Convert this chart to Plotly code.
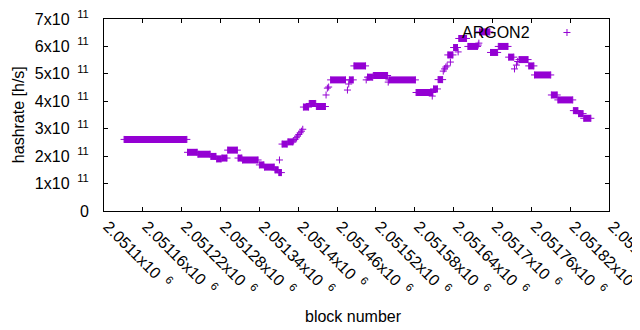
import plotly.graph_objects as go

# Runs of blocks with constant hashrate (block range, value in units of 1e11 h/s)
run_start = [2051131, 2051229, 2051245, 2051265, 2051274, 2051282, 2051291, 2051307, 2051314, 2051340,
             2051348, 2051364, 2051370, 2051375, 2051384, 2051408, 2051417, 2051428, 2051450, 2051479,
             2051486, 2051507, 2051516, 2051540, 2051582, 2051609, 2051616, 2051631, 2051640, 2051648,
             2051662, 2051680, 2051697, 2051709, 2051725, 2051741, 2051756, 2051765, 2051791, 2051801,
             2051825, 2051833, 2051841]
run_end = [2051228, 2051244, 2051264, 2051273, 2051281, 2051290, 2051306, 2051313, 2051338, 2051347,
           2051363, 2051369, 2051374, 2051383, 2051392, 2051416, 2051427, 2051442, 2051473, 2051485,
           2051504, 2051515, 2051538, 2051581, 2051608, 2051615, 2051623, 2051639, 2051646, 2051660,
           2051677, 2051696, 2051708, 2051724, 2051733, 2051755, 2051764, 2051790, 2051800, 2051824,
           2051832, 2051840, 2051852]
run_value = [2.61, 2.14, 2.07, 1.99, 1.90, 1.93, 2.22, 1.93, 1.86, 1.68,
             1.60, 1.50, 1.40, 2.44, 2.52, 3.79, 3.92, 3.81, 4.78, 4.78,
             5.29, 4.88, 4.94, 4.78, 4.32, 4.45, 4.79, 5.69, 5.96, 6.29,
             6.00, 6.53, 5.78, 6.00, 5.61, 5.52, 5.29, 4.96, 4.23, 4.05,
             3.66, 3.55, 3.38]

# Individual blocks between runs (block, value in 1e11 h/s)
point_block = [2051371, 2051393, 2051395, 2051397, 2051399, 2051401, 2051403, 2051405, 2051407,
               2051443, 2051445, 2051447, 2051476, 2051478, 2051505, 2051539, 2051607,
               2051624, 2051626, 2051628, 2051630, 2051635, 2051647, 2051678, 2051679,
               2051734, 2051737, 2051739]
point_value = [1.86, 2.56, 2.61, 2.67, 2.73, 2.79, 2.85, 2.91, 2.98,
               4.23, 4.48, 4.52, 4.41, 4.63, 4.78, 4.70, 4.19,
               5.10, 5.18, 5.25, 5.29, 5.43, 5.80, 6.05, 6.12,
               5.18, 5.32, 5.45]

x_tick_vals = [2051100, 2051160, 2051220, 2051280, 2051340, 2051400, 2051460,
               2051520, 2051580, 2051640, 2051700, 2051760, 2051820, 2051880]
x_tick_mant = ["2.0511", "2.05116", "2.05122", "2.05128", "2.05134", "2.0514", "2.05146",
               "2.05152", "2.05158", "2.05164", "2.0517", "2.05176", "2.05182", "2.05188"]
y_tick_vals = [0, 1e11, 2e11, 3e11, 4e11, 5e11, 6e11, 7e11]
y_tick_mant = ["0", "1", "2", "3", "4", "5", "6", "7"]

SCALE = 1e11
COLOR = "#9400D3"
FONT = "Liberation Sans"

seg_x, seg_y = [], []
for s, e, v in zip(run_start, run_end, run_value):
    seg_x += [s, e, None]
    seg_y += [v * SCALE, v * SCALE, None]

fig = go.Figure()
fig.add_trace(go.Scatter(
    x=seg_x, y=seg_y, mode="lines+markers",
    line=dict(color=COLOR, width=7),
    marker=dict(symbol="cross-thin", size=5, color=COLOR, line=dict(color=COLOR, width=1)),
    showlegend=False, hoverinfo="skip"))
fig.add_trace(go.Scatter(
    x=point_block, y=[v * SCALE for v in point_value], mode="markers",
    marker=dict(symbol="cross-thin", size=5, color=COLOR, line=dict(color=COLOR, width=1)),
    showlegend=False))

GAP = "\u2009 "
x_text = [m + "x10" + GAP + "<sup>6</sup>" for m in x_tick_mant]
y_text = ["0"] + [m + "x10" + GAP + "<sup>11</sup>" for m in y_tick_mant[1:]]

# page body has an 8px margin; the figure is sized to fill the rest of the 640x330 window
W, H = 632, 322
ML, MT, MR, MB = 96, 11, 31, 119

fig.update_layout(
    width=W, height=H,
    margin=dict(l=ML, r=MR, t=MT, b=MB),
    paper_bgcolor="white", plot_bgcolor="white",
    font=dict(family=FONT, size=16, color="black"),
    xaxis=dict(range=[2051100, 2051880], tickvals=x_tick_vals, ticktext=x_text,
               tickangle=45, ticks="inside", ticklen=4, tickcolor="black",
               showline=True, linecolor="black", linewidth=1, mirror="ticks",
               showgrid=False, zeroline=False, automargin=False,
               ticklabeloverflow="allow", ticklabelshift=4, ticklabelstandoff=-1,
               tickfont=dict(family=FONT, size=16, color="black")),
    yaxis=dict(range=[0, 7e11], tickvals=y_tick_vals, ticktext=y_text,
               ticks="inside", ticklen=4, tickcolor="black",
               showline=True, linecolor="black", linewidth=1, mirror="ticks",
               showgrid=False, zeroline=False, automargin=False,
               ticklabeloverflow="allow", ticklabelstandoff=11,
               tickfont=dict(family=FONT, size=16, color="black")),
    annotations=[
        dict(text="ARGON2", xref="paper", yref="paper", x=0.847, y=0.932,
             xanchor="right", yanchor="middle", showarrow=False,
             font=dict(family=FONT, size=16, color="black")),
        dict(text="block number", xref="paper", yref="paper", x=0.495, y=-0.547,
             xanchor="center", yanchor="middle", showarrow=False,
             font=dict(family=FONT, size=16, color="black")),
        dict(text="hashrate [h/s]", xref="paper", yref="paper", x=-0.170, y=0.5,
             xanchor="center", yanchor="middle", showarrow=False, textangle=-90,
             font=dict(family=FONT, size=16, color="black")),
    ],
    shapes=[
        dict(type="line", xref="paper", yref="paper", x0=0.9098, x1=0.9237, y0=0.9297, y1=0.9297,
             line=dict(color=COLOR, width=1)),
        dict(type="line", xref="paper", yref="paper", x0=0.9168, x1=0.9168, y0=0.9115, y1=0.9479,
             line=dict(color=COLOR, width=1)),
    ],
)

fig.write_html("out.html")
